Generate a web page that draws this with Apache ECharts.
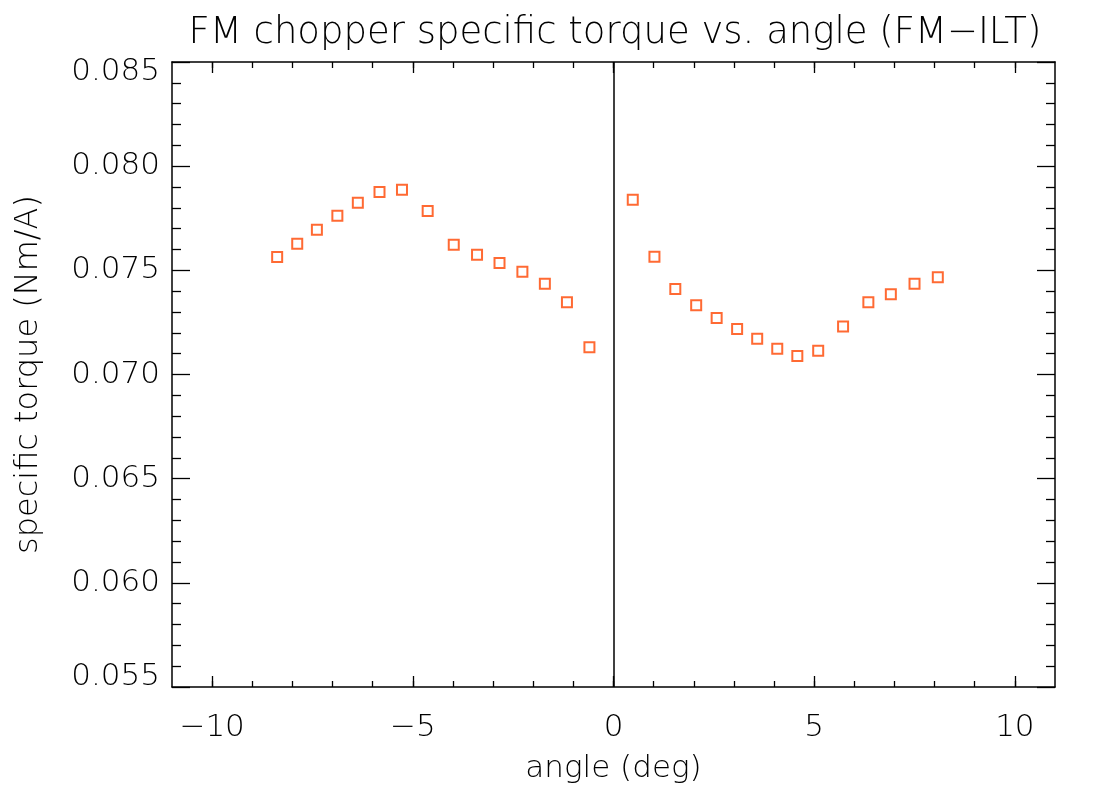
<!DOCTYPE html>
<html>
<head>
<meta charset="utf-8">
<script src="https://cdn.jsdelivr.net/npm/echarts@6/dist/echarts.min.js"></script>
<style>html,body{margin:0;padding:0;background:#fff}#c{width:1105px;height:786px}</style>
</head>
<body>
<div id="c"></div>
<script>
const angles = [-8.38,-7.88,-7.39,-6.88,-6.37,-5.83,-5.27,-4.63,-3.98,-3.40,-2.84,-2.27,-1.71,-1.16,-0.60,
  0.48,1.02,1.54,2.06,2.57,3.08,3.58,4.08,4.58,5.10,5.72,6.35,6.91,7.50,8.08];
const torque = [0.07564,0.07628,0.07695,0.07762,0.07825,0.07876,0.07887,0.07785,0.07623,0.07575,0.07535,0.07493,0.07436,0.07347,0.07131,
  0.07839,0.07565,0.07410,0.07332,0.07271,0.07218,0.07172,0.07124,0.07089,0.07114,0.07231,0.07347,0.07385,0.07436,0.07467];
const xMajor = [-10,-5,0,5,10];
const xMinor = [-10,-9,-8,-7,-6,-5,-4,-3,-2,-1,0,1,2,3,4,5,6,7,8,9,10];
const yMajor = [0.055,0.060,0.065,0.070,0.075,0.080,0.085];
const yMinor = [0.056,0.057,0.058,0.059,0.061,0.062,0.063,0.064,0.066,0.067,0.068,0.069,0.071,0.072,0.073,0.074,0.076,0.077,0.078,0.079,0.081,0.082,0.083,0.084];
const titleText = 'FM chopper specific torque vs. angle (FM\u2212ILT)';
const xName = 'angle (deg)';
const yName = 'specific torque (Nm/A)';

const FONT = '"DejaVu Sans"';
const FW = 200;
const chart = echarts.init(document.getElementById('c'), null, {renderer:'canvas'});
const lineStyle = {color:'#000', width:1.5};
function xAx(pos, ticks, len, showLabel, showLine, name){
  return {type:'value', position:pos, min:-11, max:11,
    axisLine:{show:showLine, onZero:false, lineStyle:lineStyle},
    axisTick:{show:true, inside:true, length:len, customValues:ticks, lineStyle:{color:'#000',width:1.3}},
    axisLabel:{show:showLabel, customValues:xMajor, margin:25, fontFamily:FONT, fontWeight:FW, fontSize:31, color:'#000',
      formatter:v=> v<0 ? '\u2212'+Math.abs(v) : String(v)},
    splitLine:{show:false},
    name:name||'', nameLocation:'middle', nameGap:66,
    nameTextStyle:{fontFamily:FONT, fontWeight:FW, fontSize:31, color:'#000'}};
}
function yAx(pos, ticks, len, showLabel, showLine, name){
  return {type:'value', position:pos, min:0.055, max:0.085,
    axisLine:{show:showLine, onZero:false, lineStyle:lineStyle},
    axisTick:{show:true, inside:true, length:len, customValues:ticks, lineStyle:{color:'#000',width:1.3}},
    axisLabel:{show:showLabel, customValues:yMajor, margin:12, fontFamily:FONT, fontWeight:FW, fontSize:31, color:'#000',
      formatter:v=>{
        const s = v.toFixed(3);
        if (Math.abs(v-0.085)<1e-9) return '{dn|'+s+'}';
        if (Math.abs(v-0.055)<1e-9) return '{up|'+s+'}';
        return s;
      },
      rich:{
        dn:{fontFamily:FONT, fontWeight:FW, fontSize:31, color:'#000', padding:[20,0,0,0]},
        up:{fontFamily:FONT, fontWeight:FW, fontSize:31, color:'#000', padding:[0,0,20,0]}
      }},
    splitLine:{show:false},
    name:name||'', nameLocation:'middle', nameGap:127, nameRotate:90,
    nameTextStyle:{fontFamily:FONT, fontWeight:FW, fontSize:32, color:'#000'}};
}
chart.setOption({
  animation:false,
  backgroundColor:'#fff',
  title:{text:titleText, left:610, top:10, textAlign:'center',
    textStyle:{fontFamily:FONT, fontWeight:FW, fontSize:37, color:'#000'}},
  grid:{left:172, right:50, top:62, bottom:99, containLabel:false, outerBoundsMode:'none'},
  xAxis:[
    xAx('bottom', xMajor, 11, true, true, xName),
    xAx('bottom', xMinor, 6, false, false),
    xAx('top', xMajor, 11, false, true),
    xAx('top', xMinor, 6, false, false)
  ],
  yAxis:[
    yAx('left', yMajor, 18, true, true, yName),
    yAx('left', yMinor, 9, false, false),
    yAx('right', yMajor, 18, false, true),
    yAx('right', yMinor, 9, false, false)
  ],
  series:[{
    type:'scatter', xAxisIndex:0, yAxisIndex:0,
    data: angles.map((a,i)=>[a, torque[i]]),
    symbol:'rect', symbolSize:10,
    itemStyle:{color:'rgba(0,0,0,0)', borderColor:'#ff4500', borderWidth:2},
    markLine:{silent:true, symbol:['none','none'], label:{show:false},
      lineStyle:{color:'#000', width:1.5, type:'solid'},
      data:[{xAxis:0}]}
  }]
});
</script>
</body>
</html>
